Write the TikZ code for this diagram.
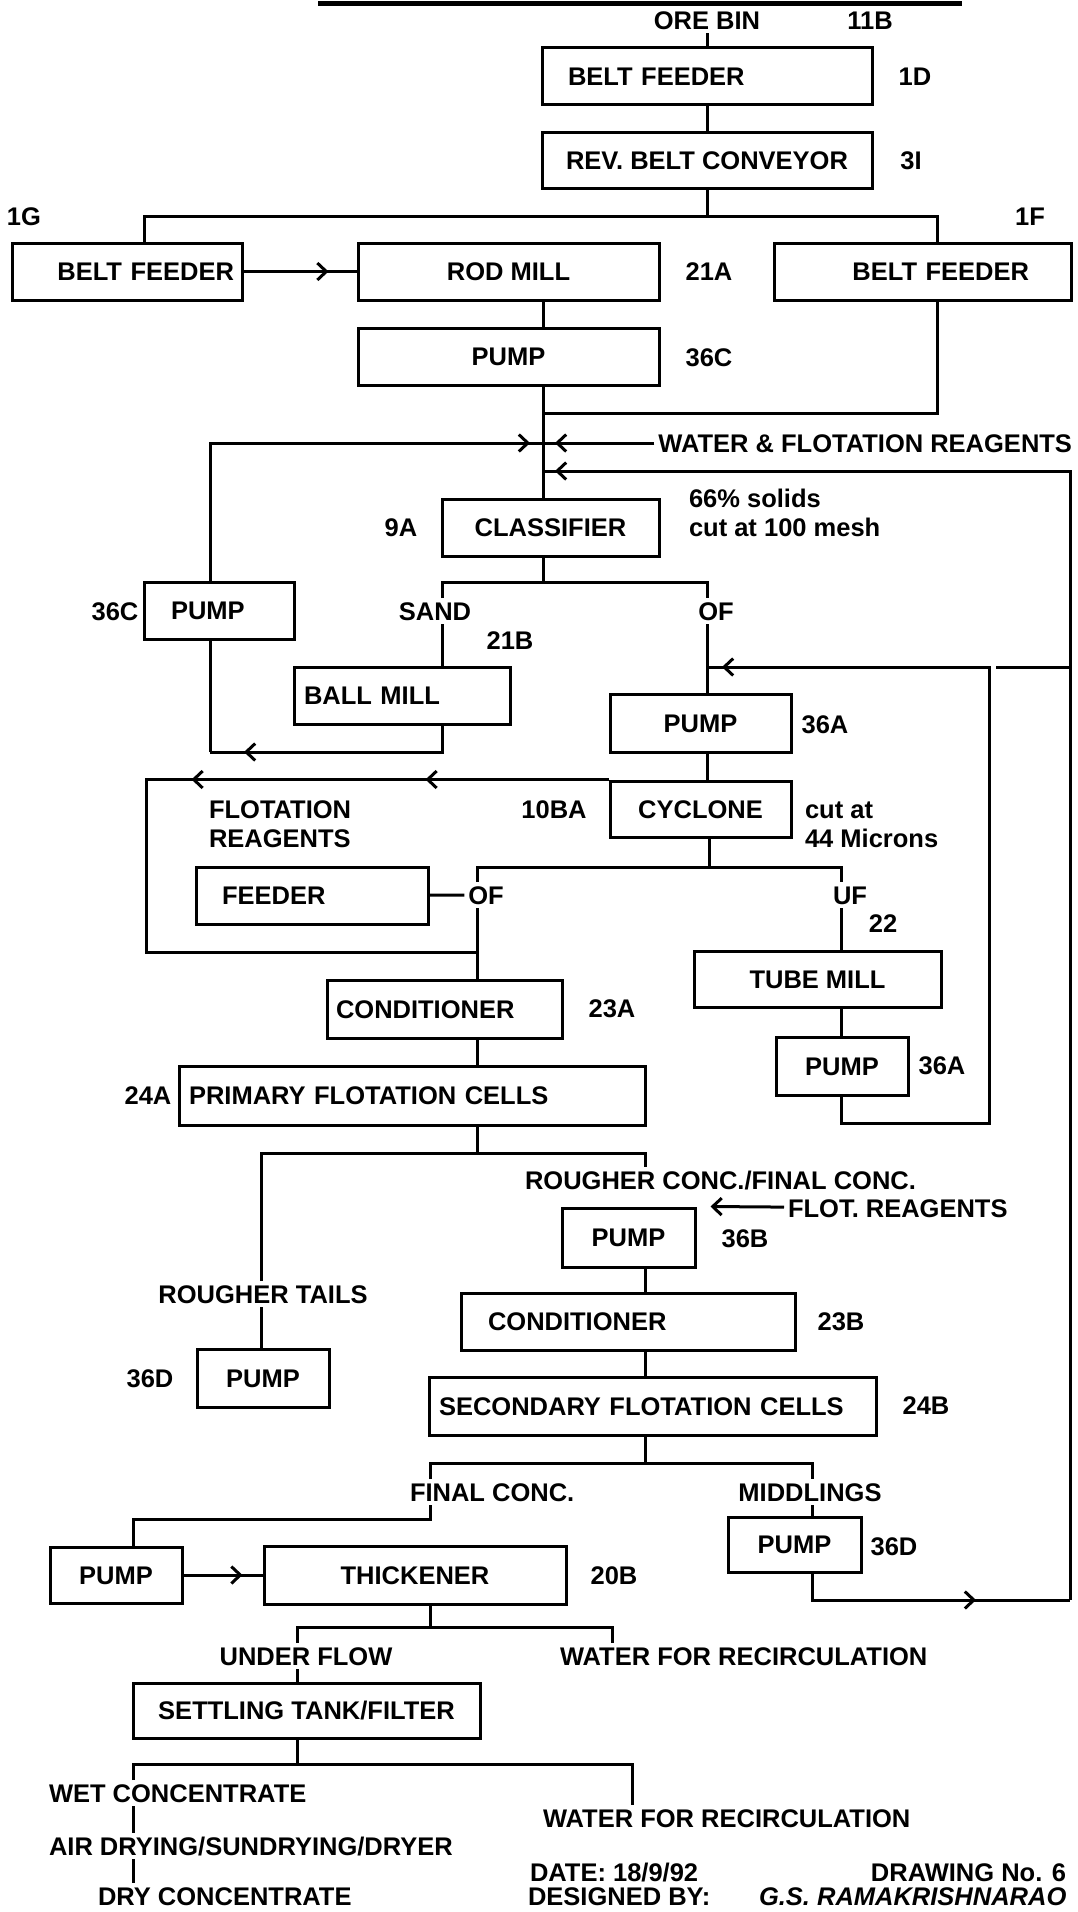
\documentclass[tikz,border=0pt]{standalone}
\usepackage{fontspec}
\setmainfont{Liberation Sans}
\usetikzlibrary{arrows.meta,decorations.markings}

\begin{document}
\begin{tikzpicture}[
  x=1pt, y=-1pt,
  line width=3pt,
  font=\fontsize{25.5}{30}\selectfont\bfseries,
  box/.style={draw,inner xsep=4pt,inner ysep=0pt,minimum height=57,
    text height=18pt,text depth=0pt},
  lbl/.style={inner sep=0pt,outer sep=4pt,text height=18pt,text depth=0pt},
  barb/.tip={Straight Barb[length=9pt,width=17pt]},
  chev/.style={postaction={decorate,decoration={markings,
    mark=at position #1 with {\arrow{barb}}}}}
]
  \useasboundingbox (0,0) rectangle (1077,1912);

  % cut-off title
  \draw[line width=5pt] (318,3) -- (962,3);

  % crushing and grinding
  \node[lbl] (orebin) at (707,20) {ORE BIN};
  \node[lbl] (t11b) at (870,20) {11B};
  \node[box,minimum width=330,align=left,text width=278pt,inner xsep=26pt] (bf1) at (707,76) {BELT FEEDER};
  \node[lbl] (t1d) at (915,76) {1D};
  \node[box,minimum width=330,minimum height=56] (rbc) at (707,160) {REV. BELT CONVEYOR};
  \node[lbl] (t3i) at (911,160) {3I};
  \node[lbl] (t1g) at (24,216) {1G};
  \node[lbl] (t1f) at (1030,216) {1F};
  \node[box,align=right,text width=214pt,inner xsep=8pt] (bfl) at (127,271.5) {BELT FEEDER};
  \node[box,minimum width=301] (rod) at (508.5,271.5) {ROD MILL};
  \node[lbl] (t21a) at (709,271) {21A};
  \node[box,align=right,text width=213pt,inner xsep=42pt] (bfr) at (922.5,271.5) {BELT FEEDER};
  \node[box,minimum width=301] (pumpc) at (508.5,356.5) {PUMP};
  \node[lbl] (t36c) at (709,357) {36C};
  \node[lbl,anchor=east] (water) at (1076,443) {WATER \& FLOTATION REAGENTS};

  % classification
  \node[box,minimum width=217] (cls) at (550.5,527.5) {CLASSIFIER};
  \node[lbl] (t9a) at (401,527) {9A};
  \node[lbl,anchor=west] (solids) at (685,498) {66\% solids};
  \node[lbl,anchor=west] (mesh) at (685,527) {cut at 100 mesh};
  \node[lbl] (sand) at (435,611) {SAND};
  \node[lbl] (of1) at (716,611) {OF};
  \node[lbl] (t21b) at (510,640) {21B};
  \node[box,align=left,text width=96pt,inner xsep=27pt] (pumpl) at (219,610.5) {PUMP};
  \node[lbl] (t36cl) at (115,611) {36C};
  \node[box,align=left,text width=196pt,inner xsep=10pt] (ball) at (402,695.5) {BALL MILL};
  \node[box,minimum width=181,minimum height=58] (pumpa) at (700.5,723) {PUMP};
  \node[lbl] (t36a) at (825,724) {36A};
  \node[box,minimum width=181,minimum height=56] (cyc) at (700.5,809) {CYCLONE};
  \node[lbl] (t10ba) at (554,809) {10BA};
  \node[lbl,anchor=west] (cutat) at (801,809) {cut at};
  \node[lbl,anchor=west] (microns) at (801,838) {44 Microns};
  \node[lbl,anchor=west] (flot) at (205,809) {FLOTATION};
  \node[lbl,anchor=west] (reag) at (205,838) {REAGENTS};
  \node[box,align=left,text width=180pt,inner xsep=26pt] (feed) at (312,895.5) {FEEDER};
  \node[lbl] (of2) at (486,895) {OF};
  \node[lbl] (uf) at (850,895) {UF};
  \node[lbl] (t22) at (883,923) {22};
  \node[box,minimum width=247,minimum height=56] (tube) at (817.5,979) {TUBE MILL};
  \node[box,minimum width=132,minimum height=58] (pumpa2) at (842,1066) {PUMP};
  \node[lbl] (t36a2) at (942,1065) {36A};

  % flotation
  \node[box,align=left,text width=217pt,inner xsep=9pt,minimum height=58] (cond) at (444.5,1009) {CONDITIONER};
  \node[lbl] (t23a) at (612,1008) {23A};
  \node[box,align=left,text width=446pt,inner xsep=10pt,minimum height=59] (pfc) at (412,1095.5) {PRIMARY FLOTATION CELLS};
  \node[lbl] (t24a) at (148,1095) {24A};
  \node[lbl,anchor=west] (rconc) at (521,1180) {ROUGHER CONC./FINAL CONC.};
  \node[lbl,anchor=west] (flotr) at (784,1208) {FLOT. REAGENTS};
  \node[box,minimum width=133,minimum height=59] (pumpb) at (628.5,1237.5) {PUMP};
  \node[lbl] (t36b) at (745,1238) {36B};
  \node[lbl] (rtails) at (263,1294) {ROUGHER TAILS};
  \node[box,align=left,text width=280pt,inner xsep=27pt] (condb) at (628,1321.5) {CONDITIONER};
  \node[lbl] (t23b) at (841,1321) {23B};
  \node[box,minimum width=132,minimum height=58] (pumpd) at (263,1378) {PUMP};
  \node[lbl] (t36d) at (150,1378) {36D};
  \node[box,align=left,text width=427pt,inner xsep=10pt,minimum height=58] (sfc) at (652.5,1406) {SECONDARY FLOTATION CELLS};
  \node[lbl] (t24b) at (926,1405) {24B};
  \node[lbl,anchor=west] (fconc) at (406,1492) {FINAL CONC.};
  \node[lbl] (midd) at (810,1492) {MIDDLINGS};
  \node[box,minimum width=133,minimum height=55] (pumpd2) at (794.5,1544.5) {PUMP};
  \node[lbl] (t36d2) at (894,1546) {36D};

  % dewatering
  \node[box,minimum width=132,minimum height=56] (pumpf) at (116,1575) {PUMP};
  \node[box,minimum width=302,minimum height=58] (thick) at (415,1575) {THICKENER};
  \node[lbl] (t20b) at (614,1575) {20B};
  \node[lbl] (uflow) at (306,1656) {UNDER FLOW};
  \node[lbl,anchor=west] (wrec1) at (556,1656) {WATER FOR RECIRCULATION};
  \node[box,minimum width=347,minimum height=55] (stf) at (306.5,1710.5) {SETTLING TANK/FILTER};
  \node[lbl,anchor=west] (wet) at (45,1793) {WET CONCENTRATE};
  \node[lbl,anchor=west] (wrec2) at (539,1818) {WATER FOR RECIRCULATION};
  \node[lbl,anchor=west] (air) at (45,1846) {AIR DRYING/SUNDRYING/DRYER};
  \node[lbl,anchor=west] (dry) at (94,1896) {DRY CONCENTRATE};
  \node[lbl,anchor=west] (date) at (526,1872) {DATE: 18/9/92};
  \node[lbl,anchor=east] (dwg) at (1070,1872) {DRAWING No. 6};
  \node[lbl,anchor=west] (desby) at (524,1896) {DESIGNED BY:};
  \node[lbl,anchor=west] (author) at (755,1896) {\itshape G.S. RAMAKRISHNARAO};

  % junctions
  \coordinate (mx) at (543,0);
  \coordinate (s1l) at (144,216);
  \coordinate (s1r) at (937,216);
  \coordinate (j1) at (543,413);
  \coordinate (j2) at (543,443);
  \coordinate (j3) at (543,471);
  \coordinate (s2) at (543,582);
  \coordinate (sx) at (442,0);
  \coordinate (ox) at (707,0);
  \coordinate (lx) at (210,752);
  \coordinate (tl) at (989,667);
  \coordinate (tb) at (989,1123);
  \coordinate (gp) at (996,667);
  \coordinate (rt) at (1070,471);
  \coordinate (rb) at (1070,1600);
  \coordinate (fx) at (146,952);
  \coordinate (s3) at (709,867);
  \coordinate (ox2) at (477,0);
  \coordinate (ux) at (841,0);
  \coordinate (s4) at (645,1153);
  \coordinate (tx) at (261,0);
  \coordinate (s5) at (645,1463);
  \coordinate (fx2) at (430,0);
  \coordinate (mdx) at (812,0);
  \coordinate (fk) at (133,1519);
  \coordinate (s6) at (612,1627);
  \coordinate (ufx) at (297,0);
  \coordinate (s7) at (632,1764);

  % flow lines
  \draw (orebin) -- (bf1);
  \draw (bf1) -- (rbc);
  \draw (rbc) -- (rbc.south |- s1l);
  \draw (bfl.north -| s1l) -- (s1l) -- (s1r) -- (bfr.north -| s1r);
  \draw[chev=-28pt] (bfl) -- (rod);
  \draw (rod.south -| mx) -- (pumpc.north -| mx);
  \draw (pumpc.south -| mx) -- (cls.north -| mx);
  \draw (bfr.south -| s1r) |- (j1);
  \draw[chev=-13pt] (pumpl.north -| lx) |- (j2);
  \draw[chev=-12pt] (water) -- (j2);
  \draw[chev=-12pt] (rb) -- (rt) -- (j3);
  \draw[chev=-94pt] (pumpd2.south -| mdx) |- (rb);
  \draw (rb |- tl) -- (gp);
  \draw (cls.south -| mx) -- (s2);
  \draw (sand.north -| sx) -- (sx |- s2) -- (ox |- s2) -- (of1.north -| ox);
  \draw (sand.south -| sx) -- (ball.north -| sx);
  \draw (of1.south -| ox) -- (pumpa.north -| ox);
  \draw[chev=-34pt] (ball.south -| sx) |- (lx);
  \draw (lx) -- (pumpl.south -| lx);
  \draw (pumpa.south -| ox) -- (cyc.north -| ox);
  \draw[chev=-15pt] (pumpa2.south -| ux) |- (tb) -- (tl) -- (ox |- tl);
  \draw[chev=183pt,chev=417pt] (cyc.north west) -- (fx |- cyc.north) -- (fx) -- (ox2 |- fx);
  \draw (cyc.south -| s3) -- (s3);
  \draw (of2.north -| ox2) -- (ox2 |- s3) -- (ux |- s3) -- (uf.north -| ux);
  \draw (feed) -- (of2);
  \draw (of2.south -| ox2) -- (cond.north -| ox2);
  \draw (uf.south -| ux) -- (tube.north -| ux);
  \draw (tube.south -| ux) -- (pumpa2.north -| ux);
  \draw (cond.south -| ox2) -- (pfc.north -| ox2);
  \draw (pfc.south -| ox2) -- (ox2 |- s4);
  \draw (rtails.north -| tx) -- (tx |- s4) -- (s4) -- (s4 |- rconc.north);
  \draw (rtails.south -| tx) -- (pumpd.north -| tx);
  \draw[-{barb}] (flotr) -- ([xshift=14pt]pumpb.north east);
  \draw (pumpb.south -| s4) -- (condb.north -| s4);
  \draw (condb.south -| s4) -- (sfc.north -| s4);
  \draw (sfc.south -| s5) -- (s5);
  \draw (fconc.north -| fx2) -- (fx2 |- s5) -- (mdx |- s5) -- (midd.north -| mdx);
  \draw (fconc.south -| fx2) -- (fx2 |- fk) -- (fk) -- (pumpf.north -| fk);
  \draw (midd.south -| mdx) -- (pumpd2.north -| mdx);
  \draw[chev=-20pt] (pumpf) -- (thick);
  \draw (thick.south -| fx2) -- (fx2 |- s6);
  \draw (uflow.north -| ufx) -- (ufx |- s6) -- (s6) -- (s6 |- wrec1.north);
  \draw (uflow.south -| ufx) -- (stf.north -| ufx);
  \draw (stf.south -| ufx) -- (ufx |- s7);
  \draw (wet.north -| fk) -- (fk |- s7) -- (s7) -- (s7 |- wrec2.north);
  \draw (wet.south -| fk) -- (air.north -| fk);
  \draw (air.south -| fk) -- (dry.north -| fk);
\end{tikzpicture}
\end{document}
